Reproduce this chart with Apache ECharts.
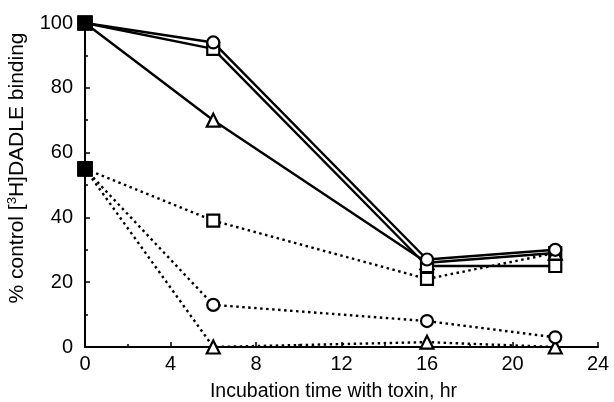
<!DOCTYPE html>
<html>
<head>
<meta charset="utf-8">
<script src="https://cdn.jsdelivr.net/npm/echarts@6/dist/echarts.min.js"></script>
<style>html,body{margin:0;padding:0;background:#fff;}#c{width:614px;height:402px;}</style>
</head>
<body>
<div id="c"></div>
<script>
const hours = [0, 6, 16, 22];
const xTicks = [0, 4, 8, 12, 16, 20, 24];
const yTicks = [0, 20, 40, 60, 80, 100];
const solidCircle = [100, 94, 27, 30];
const solidSquare = [100, 92, 25, 25];
const solidTriangle = [100, 70, 26, 29];
const dottedSquare = [55, 39, 21, 29];
const dottedCircle = [55, 13, 8, 3];
const dottedTriangle = [55, 0, 1.5, 0];

const FONT = '"Liberation Sans", Arial, sans-serif';

function mk(name, vals, symbol, dotted, z) {
  return {
    name: name,
    type: 'line',
    z: z,
    symbol: symbol,
    symbolSize: symbol === 'triangle' ? 13 : 12,
    showAllSymbol: true,
    data: vals.map((v, i) => i === 0
      ? { value: [hours[i], v], symbol: 'rect', symbolSize: 13, itemStyle: { color: '#000', borderColor: '#000' } }
      : [hours[i], v]),
    lineStyle: { color: '#000', width: 2.4, type: dotted ? [2.5, 3.5] : 'solid' },
    itemStyle: { color: '#fff', borderColor: '#000', borderWidth: 2.2 },
    emphasis: { disabled: true },
    animation: false
  };
}

const chart = echarts.init(document.getElementById('c'));
chart.setOption({
  backgroundColor: '#fff',
  animation: false,
  grid: { left: 85, right: 16, top: 23, bottom: 55, containLabel: false, outerBoundsMode: 'none' },
  xAxis: {
    type: 'value', min: 0, max: 24, interval: 4,
    name: 'Incubation time with toxin, hr',
    nameLocation: 'middle', nameGap: 35,
    nameTextStyle: { color: '#000', fontSize: 19.5, fontFamily: FONT, padding: [0, 16, 0, 0] },
    axisLine: { lineStyle: { color: '#000', width: 2 } },
    axisTick: { inside: true, length: 5, lineStyle: { color: '#000', width: 1.5 } },
    minorTick: { show: true, splitNumber: 2, length: 3, lineStyle: { color: '#000', width: 1.5 } },
    axisLabel: { color: '#000', fontSize: 20, fontFamily: FONT, margin: 7,
      formatter: v => xTicks.includes(v) ? String(v) : '' },
    splitLine: { show: false }
  },
  yAxis: {
    type: 'value', min: 0, max: 100, interval: 20,
    name: '% control [{sup|3}H]DADLE binding',
    nameLocation: 'middle', nameGap: 57,
    nameTextStyle: { color: '#000', fontSize: 21, fontFamily: FONT, padding: [0, 0, 0, 34],
      rich: { sup: { fontSize: 13, verticalAlign: 'top', padding: [0, 0, 9, 0], color: '#000', fontFamily: FONT } } },
    axisLine: { show: true, lineStyle: { color: '#000', width: 2 } },
    axisTick: { inside: true, length: 5, lineStyle: { color: '#000', width: 1.5 } },
    minorTick: { show: true, splitNumber: 2, length: 3, lineStyle: { color: '#000', width: 1.5 } },
    axisLabel: { color: '#000', fontSize: 20, fontFamily: FONT, margin: 12,
      formatter: v => yTicks.includes(v) ? String(v) : '' },
    splitLine: { show: false }
  },
  series: [
    mk('dottedTriangle', dottedTriangle, 'triangle', true, 2),
    mk('dottedCircle', dottedCircle, 'circle', true, 2),
    mk('dottedSquare', dottedSquare, 'rect', true, 2),
    mk('solidTriangle', solidTriangle, 'triangle', false, 3),
    mk('solidSquare', solidSquare, 'rect', false, 3),
    mk('solidCircle', solidCircle, 'circle', false, 3)
  ]
});
</script>
</body>
</html>
